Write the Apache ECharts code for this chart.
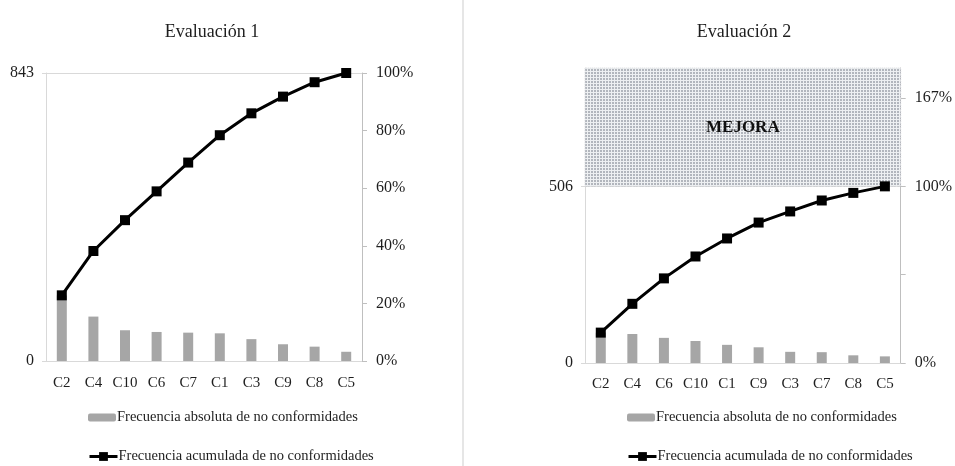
<!DOCTYPE html>
<html>
<head>
<meta charset="utf-8">
<script src="https://cdn.jsdelivr.net/npm/echarts@6/dist/echarts.min.js"></script>
<style>
	html,body{margin:0;padding:0;background:#fff;}
	#chart{width:955px;height:466px;}
</style>
</head>
<body>
<div id="chart"></div>
<script>
// Evaluación 1
let categories1 = ['C2','C4','C10','C6','C7','C1','C3','C9','C8','C5'];
let freq1 = [192,130,90,85,83,81,64,49,42,27];
let cumPct1 = [22.8,38.2,48.9,58.9,68.9,78.4,86.0,91.8,96.8,100];
let total1 = 843;

// Evaluación 2
let categories2 = ['C2','C4','C6','C10','C1','C9','C3','C7','C8','C5'];
let freq2 = [87,83,72,63,52,45,32,31,22,19];
let cumPct2 = [17.2,33.5,47.9,60.3,70.5,79.5,85.8,92.0,96.3,100];
let total2 = 506;
let mejoraTop = 845;      // 167% of 506
let pctLabels2 = {0:'0%', 100:'100%', 150:'167%'};

let barName = 'Frecuencia absoluta de no conformidades';
let lineName = 'Frecuencia acumulada de no conformidades';

let serif = '"Liberation Serif","DejaVu Serif",serif';
let txt = '#1e1e1e';
let gridGray = '#d9d9d9';
let axisGray = '#bfbfbf';

// dotted fill for the MEJORA zone
let pat = document.createElement('canvas');
pat.width = 3; pat.height = 3;
{
	let c = pat.getContext('2d');
	c.fillStyle = '#eef0f2';
	c.fillRect(0,0,3,3);
	c.fillStyle = '#b2b6bd';
	c.fillRect(0,0,2,2);
}

let labelStyle = {color:txt, fontFamily:serif, fontSize:16};

function legendItem(name, left, top, h){
	return {
		left:left, top:top, itemGap:0,
		itemWidth:28, itemHeight:h,
		data:[name],
		lineStyle:{width:3},
		textStyle:{color:txt, fontFamily:serif, fontSize:14.5, padding:[0,0,0,-4]}
	};
}

let myEchart = echarts.init(document.getElementById('chart'));

let opt = {
	animation:false,
	graphic:[
		{type:'rect', shape:{x:462, y:0, width:2, height:466}, style:{fill:'#e6e6e6'}},
		{type:'text', x:212, y:32, style:{text:'Evaluación 1', fill:txt, font:'18px ' + serif, align:'center', verticalAlign:'middle'}},
		{type:'text', x:744, y:32, style:{text:'Evaluación 2', fill:txt, font:'18px ' + serif, align:'center', verticalAlign:'middle'}}
	],
	legend:[
		legendItem(barName, 83, 405, 8),
		legendItem(lineName, 83, 444, 11),
		legendItem(barName, 622, 405, 8),
		legendItem(lineName, 622, 444, 11)
	],
	grid:[
		{left:46, right:593, top:73, bottom:105},
		{left:585, right:54, top:68, bottom:103}
	],
	xAxis:[
		{
			type:'category', gridIndex:0, data:categories1,
			axisLine:{lineStyle:{color:gridGray}},
			axisTick:{show:false},
			axisLabel:{interval:0, color:txt, fontFamily:serif, fontSize:15, margin:15}
		},
		{
			type:'category', gridIndex:1, data:categories2,
			axisLine:{lineStyle:{color:gridGray}},
			axisTick:{show:false},
			axisLabel:{interval:0, color:txt, fontFamily:serif, fontSize:15, margin:14}
		}
	],
	yAxis:[
		{
			type:'value', gridIndex:0, min:0, max:total1, interval:total1,
			axisLine:{show:true, lineStyle:{color:gridGray}},
			axisTick:{show:true, length:4, lineStyle:{color:gridGray}},
			splitLine:{show:true, lineStyle:{color:gridGray}},
			axisLabel:Object.assign({margin:12}, labelStyle)
		},
		{
			type:'value', gridIndex:0, position:'right', min:0, max:100, interval:20,
			axisLine:{show:true, lineStyle:{color:axisGray}},
			axisTick:{show:true, length:5, lineStyle:{color:axisGray}},
			splitLine:{show:false},
			axisLabel:Object.assign({margin:14, formatter:'{value}%'}, labelStyle)
		},
		{
			type:'value', gridIndex:1, min:0, max:mejoraTop, interval:total2,
			axisLine:{show:true, lineStyle:{color:gridGray}},
			axisTick:{show:true, length:4, lineStyle:{color:gridGray}},
			splitLine:{show:true, lineStyle:{color:gridGray}},
			axisLabel:Object.assign({margin:12, showMaxLabel:false,
				formatter:function(v){ return v === 0 || v === total2 ? String(v) : ''; }}, labelStyle)
		},
		{
			type:'value', gridIndex:1, position:'right', min:0, max:167, interval:50,
			axisLine:{show:true, lineStyle:{color:axisGray}},
			axisTick:{show:true, length:5, lineStyle:{color:axisGray}},
			splitLine:{show:false},
			axisLabel:Object.assign({margin:14, showMaxLabel:false,
				formatter:function(v){ return pctLabels2[v] || ''; }}, labelStyle)
		}
	],
	series:[
		{
			name:barName, type:'bar', xAxisIndex:0, yAxisIndex:0,
			data:freq1, barWidth:10,
			itemStyle:{color:'#a6a6a6'}
		},
		{
			name:lineName, type:'line', xAxisIndex:0, yAxisIndex:1,
			data:cumPct1, symbol:'rect', symbolSize:10,
			lineStyle:{color:'#000', width:3},
			itemStyle:{color:'#000'}
		},
		{
			name:barName, type:'bar', xAxisIndex:1, yAxisIndex:2,
			data:freq2, barWidth:10,
			itemStyle:{color:'#a6a6a6'},
			markArea:{
				silent:true,
				itemStyle:{color:{image:pat, repeat:'repeat'}, borderColor:'#d4d6da', borderWidth:1, borderType:'dotted'},
				label:{show:true, position:'inside', color:'#111', fontFamily:serif, fontWeight:'bold', fontSize:17},
				data:[[{name:'MEJORA', yAxis:total2}, {yAxis:mejoraTop}]]
			}
		},
		{
			name:lineName, type:'line', xAxisIndex:1, yAxisIndex:3,
			data:cumPct2, symbol:'rect', symbolSize:10,
			lineStyle:{color:'#000', width:3},
			itemStyle:{color:'#000'}
		}
	]
};
myEchart.setOption(opt);
</script>
</body>
</html>
